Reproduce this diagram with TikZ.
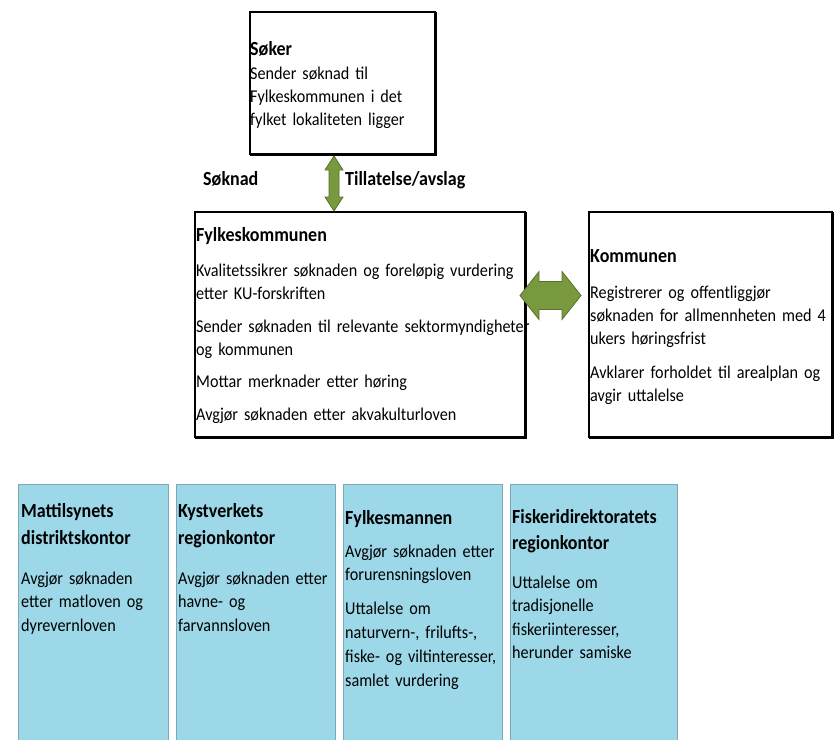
\documentclass[tikz,border=0pt]{standalone}
\usepackage{fontspec}
\setmainfont{Carlito}[FakeStretch=0.9]
\usetikzlibrary{calc}
\definecolor{arrowgreen}{RGB}{121,153,62}
\definecolor{arrowedge}{RGB}{88,112,44}
\definecolor{boxblue}{RGB}{157,216,233}
\definecolor{boxblueedge}{RGB}{125,168,182}
\newcommand{\bodyfont}[1]{\fontsize{18}{#1}\selectfont\spaceskip=2.3pt\relax}
\newcommand{\titlefont}[1]{\fontsize{20}{#1}\selectfont\bfseries\spaceskip=3pt\relax}
\begin{document}
\begin{tikzpicture}[x=1pt,y=-1pt,
  whitebox/.style={draw=black, line width=2pt, fill=white, inner sep=0pt, anchor=north west},
  shadowline/.style={draw=black, line width=2pt, line cap=rect},
  bluebox/.style={draw=boxblueedge, line width=0.8pt, fill=boxblue, inner sep=0pt, anchor=north west},
  titletext/.style={font=\titlefont{27}, anchor=base west, inner sep=0pt, text width=500pt},
  bodytext/.style={font=\bodyfont{23.3}, anchor=base west, inner sep=0pt, text width=500pt},
  lowtext/.style={font=\bodyfont{23.8}, anchor=base west, inner sep=0pt, text width=500pt},
  arrowlabel/.style={font=\titlefont{24}, anchor=base west, inner sep=0pt},
  fatarrow/.style={fill=arrowgreen, draw=arrowedge, line width=0.8pt, line join=miter}
]
\useasboundingbox[fill=white] (0,0) rectangle (834,739);

% upper boxes
\node[whitebox, minimum width=185pt, minimum height=142pt] (soker) at (249,11) {};
\node[whitebox, minimum width=330pt, minimum height=225pt] (fylke) at (194,211) {};
\node[whitebox, minimum width=243pt, minimum height=225pt] (kommune) at (588,211) {};
\foreach \b in {soker,fylke,kommune}{
  \draw[shadowline] ($(\b.south west)+(2,0.3)$) -- ($(\b.south east)+(0.3,0.3)$) -- ($(\b.north east)+(0.3,2)$);
}

% lower boxes
\node[bluebox, minimum width=150pt, minimum height=270pt] (b1) at (18,484) {};
\node[bluebox, minimum width=159pt, minimum height=270pt] (b2) at (176,484) {};
\node[bluebox, minimum width=159pt, minimum height=270pt] (b3) at (343,484) {};
\node[bluebox, minimum width=167pt, minimum height=270pt] (b4) at (510,484) {};

% texts, Søker
\node[titletext] (sokerT) at ($(soker.north west)+(1,44)$) {Søker};
\node[bodytext, font=\bodyfont{23}] (sokerB) at ($(soker.north west)+(1,68)$)
  {Sender søknad til\\Fylkeskommunen i det\\fylket lokaliteten ligger};

% Fylkeskommunen
\node[titletext] (fylkeT) at ($(fylke.north west)+(2,30)$) {Fylkeskommunen};
\node[bodytext] (fylkeB) at ($(fylke.north west)+(2,65)$)
  {Kvalitetssikrer søknaden og foreløpig vurdering\\etter KU-forskriften\\[9.5pt]
   Sender søknaden til relevante sektormyndigheter\\og kommunen\\[9pt]
   Mottar merknader etter høring\\[9pt]
   Avgjør søknaden etter akvakulturloven};

% Kommunen
\node[titletext] (kommuneT) at ($(kommune.north west)+(2,51)$) {Kommunen};
\node[bodytext, font=\bodyfont{23}] (kommuneB) at ($(kommune.north west)+(2,87)$)
  {Registrerer og offentliggjør\\søknaden for allmennheten med 4\\ukers høringsfrist\\[11pt]
   Avklarer forholdet til arealplan og\\avgir uttalelse};

% lower texts
\node[titletext] (b1T) at ($(b1.north west)+(3,33)$) {Mattilsynets\\distriktskontor};
\node[lowtext, font=\bodyfont{23.5}] (b1B) at ($(b1.north west)+(3,100)$) {Avgjør søknaden\\etter matloven og\\dyrevernloven};

\node[titletext] (b2T) at ($(b2.north west)+(2,33)$) {Kystverkets\\regionkontor};
\node[lowtext, font=\bodyfont{23.5}] (b2B) at ($(b2.north west)+(2,100)$) {Avgjør søknaden etter\\havne- og\\farvannsloven};

\node[titletext] (b3T) at ($(b3.north west)+(2,40)$) {Fylkesmannen};
\node[lowtext] (b3B) at ($(b3.north west)+(2,73)$)
  {Avgjør søknaden etter\\forurensningsloven\\[10pt]
   Uttalelse om\\naturvern-, frilufts-,\\fiske- og viltinteresser,\\samlet vurdering};

\node[titletext, font=\titlefont{26}] (b4T) at ($(b4.north west)+(2,39)$) {Fiskeridirektoratets\\regionkontor};
\node[lowtext, font=\bodyfont{23.5}] (b4B) at ($(b4.north west)+(2,104)$)
  {Uttalelse om\\tradisjonelle\\fiskeriinteresser,\\herunder samiske};

% vertical double arrow Søker <-> Fylkeskommunen
\coordinate (vt) at ($(soker.south)+(-8.5,1)$);
\coordinate (vb) at (vt |- fylke.north);
\draw[fatarrow] (vt) -- ($(vt)+(9,14)$) -- ($(vt)+(5,14)$) -- ($(vb)+(5,-14)$) -- ($(vb)+(9,-14)$)
  -- (vb) -- ($(vb)+(-9,-14)$) -- ($(vb)+(-5,-14)$) -- ($(vt)+(-5,14)$) -- ($(vt)+(-9,14)$) -- cycle;

\node[arrowlabel] (lsok) at (203,185) {Søknad};
\node[arrowlabel] (ltil) at (345,185) {Tillatelse/avslag};

% horizontal double arrow Fylkeskommunen <-> Kommunen
\coordinate (hl) at ($(fylke.east)+(-6,-29)$);
\coordinate (hr) at ($(kommune.west)+(-7,-29)$);
\draw[fatarrow] (hl) -- ($(hl)+(19,-24)$) -- ($(hl)+(19,-14)$) -- ($(hr)+(-19,-14)$) -- ($(hr)+(-19,-24)$)
  -- (hr) -- ($(hr)+(-19,24)$) -- ($(hr)+(-19,14)$) -- ($(hl)+(19,14)$) -- ($(hl)+(19,24)$) -- cycle;
\end{tikzpicture}
\end{document}
